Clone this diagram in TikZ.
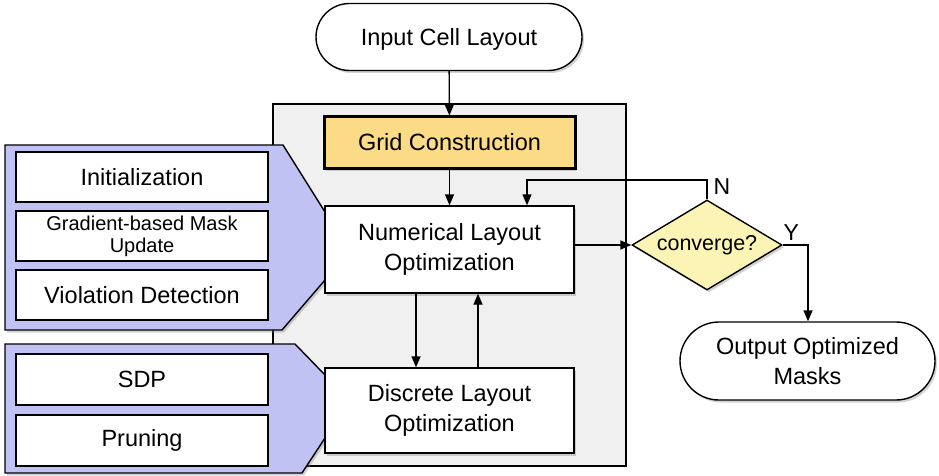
\documentclass[tikz,border=0pt]{standalone}
\usepackage{fontspec}
\setmainfont{Liberation Sans}
\usetikzlibrary{shapes.geometric,shapes.misc,shadows,arrows.meta}
\definecolor{panelgray}{HTML}{F0F0F0}
\definecolor{gridyellow}{HTML}{FBDB85}
\definecolor{diayellow}{HTML}{FCF4B4}
\definecolor{calloutblue}{HTML}{C0C2F4}
\tikzset{
  shd/.style={drop shadow={opacity=0.35,shadow xshift=2pt,shadow yshift=-2.5pt}},
  box/.style={draw=black,line width=1.4pt,fill=white,align=center,inner sep=0pt,font=\fontsize{23.5}{28}\selectfont},
  term/.style={box,rounded rectangle,rounded rectangle arc length=180,shd},
  sub/.style={box,minimum width=252pt},
  arr/.style={line width=1.4pt,-{Triangle[length=11pt,width=9pt]}},
}
\begin{document}
\begin{tikzpicture}[x=1pt,y=-1pt]
\useasboundingbox (0,0) rectangle (939,476);
% central panel
\path[draw=black,line width=1.2pt,fill=panelgray] (273,104) rectangle (626,466);
% callouts
\path[draw=black,line width=1.4pt,fill=calloutblue,shd]
  (5,145) -- (283,145) -- (325,212) -- (325,280) -- (282,330) -- (5,330) -- cycle;
\path[draw=black,line width=1.4pt,fill=calloutblue,shd]
  (5,344) -- (295,344) -- (325,375) -- (325,438) -- (302,473) -- (5,473) -- cycle;
% nodes
\node[term,minimum width=266pt,minimum height=67pt,text depth=0pt] (in) at (449,37) {Input Cell Layout};
\node[box,line width=3pt,fill=gridyellow,minimum width=251pt,minimum height=51pt,text depth=1pt,shd] (grid) at (449.5,142.5) {Grid Construction};
\node[box,minimum width=249pt,minimum height=87pt,shd] (num) at (449.5,249.5) {Numerical Layout\\[2pt]Optimization};
\node[box,minimum width=249pt,minimum height=85pt,shd] (disc) at (449.5,410.5) {Discrete Layout\\[2pt]Optimization};
\node[diamond,draw=black,line width=1.4pt,fill=diayellow,aspect=1.67,minimum width=150pt,minimum height=90pt,inner sep=0pt,font=\fontsize{21.5}{26}\selectfont,shd] (conv) at (707,245) {converge?};
\node[term,minimum width=255pt,minimum height=78pt] (out) at (807.5,361) {Output Optimized\\[2pt]Masks};
% sub boxes
\node[sub,minimum height=50pt] (init) at (142,177) {Initialization};
\node[sub,minimum height=50pt,font=\fontsize{20}{22}\selectfont] (grad) at (142,236) {Gradient-based Mask\\Update};
\node[sub,minimum height=50pt] (viol) at (142,295) {Violation Detection};
\node[sub,minimum height=51pt] (sdp) at (142,379.5) {SDP};
\node[sub,minimum height=51pt] (prun) at (142,440.5) {Pruning};
% connectors
\draw[arr] (in) -- (grid);
\draw[arr] (grid) -- (num);
\draw[arr] (num.south -| 416,0) -- (disc.north -| 416,0);
\draw[arr] (disc.north -| 478,0) -- (num.south -| 478,0);
\draw[arr] (num.east |- conv.west) -- (conv.west);
\draw[arr] (conv.north) -- (707,180) -- (527,180) -- (num.north -| 527,0);
\draw[arr] (conv.east) -- (808,245) -- (out.north -| 808,0);
\node[font=\fontsize{23}{26}\selectfont,anchor=west] (nlab) at (710,187) {N};
\node[font=\fontsize{23}{26}\selectfont,anchor=west] (ylab) at (780,233) {Y};
\end{tikzpicture}
\end{document}
